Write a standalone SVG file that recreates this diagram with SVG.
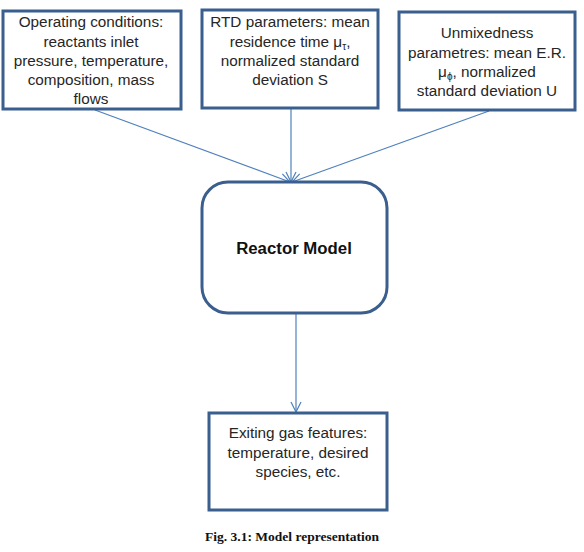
<svg xmlns="http://www.w3.org/2000/svg" width="584" height="552" viewBox="0 0 584 552">
<defs>
<marker id="arr" viewBox="0 0 12 12" refX="11" refY="6" markerWidth="12" markerHeight="12" markerUnits="userSpaceOnUse" orient="auto">
<path d="M1,1 L11,6 L1,11" fill="none" stroke="#4f81bd" stroke-width="1.2"/>
</marker>
<style>
.box{fill:#fff;stroke:#3a5f8e;stroke-width:3}
.t{font-family:"Liberation Sans","Open Sans",sans-serif;font-size:15.3px;fill:#262626;text-anchor:middle}
.b{font-family:"Liberation Sans",sans-serif;font-size:16.8px;font-weight:bold;fill:#111;text-anchor:middle}
.cap{font-family:"Liberation Serif",serif;font-size:13.5px;font-weight:bold;fill:#111;text-anchor:middle}
.c{fill:none;stroke:#4f81bd;stroke-width:1.2}
.s{font-size:10px}
</style>
</defs>
<rect width="584" height="552" fill="#fff"/>
<g id="connectors">
<line class="c" x1="95" y1="110" x2="290" y2="182" marker-end="url(#arr)"/>
<line class="c" x1="291" y1="108" x2="291" y2="182" marker-end="url(#arr)"/>
<line class="c" x1="489" y1="111" x2="292" y2="182" marker-end="url(#arr)"/>
<line class="c" x1="296" y1="314" x2="296" y2="412" marker-end="url(#arr)"/>
</g>
<g id="operating">
<rect class="box" x="3" y="11" width="178" height="98"/>
<text class="t" x="91" y="27">Operating conditions:</text>
<text class="t" x="91" y="47">reactants inlet</text>
<text class="t" x="91" y="66">pressure, temperature,</text>
<text class="t" x="91" y="85">composition, mass</text>
<text class="t" x="91" y="104">flows</text>
</g>
<g id="rtd">
<rect class="box" x="202" y="10" width="176" height="98"/>
<text class="t" x="290" y="27">RTD parameters:  mean</text>
<text class="t" x="290" y="47">residence time μ<tspan class="s" dy="3">τ</tspan><tspan dy="-3">,</tspan></text>
<text class="t" x="290" y="66">normalized standard</text>
<text class="t" x="290" y="85">deviation S</text>
</g>
<g id="unmixedness">
<rect class="box" x="399" y="12" width="176" height="98"/>
<text class="t" x="487" y="38">Unmixedness</text>
<text class="t" x="487" y="58">parametres: mean  E.R.</text>
<text class="t" x="487" y="77">μ<tspan class="s" dy="3">ϕ</tspan><tspan dy="-3">, normalized</tspan></text>
<text class="t" x="487" y="96">standard deviation  U</text>
</g>
<g id="reactor">
<rect class="box" x="202" y="182" width="185" height="131" rx="26" ry="26"/>
<text class="b" x="294" y="254">Reactor Model</text>
</g>
<g id="exiting">
<rect class="box" x="209" y="413" width="178" height="97"/>
<text class="t" x="298" y="438">Exiting gas features:</text>
<text class="t" x="298" y="458">temperature, desired</text>
<text class="t" x="298" y="477">species, etc.</text>
</g>
<text class="cap" x="292" y="541">Fig. 3.1: Model representation</text>
</svg>
